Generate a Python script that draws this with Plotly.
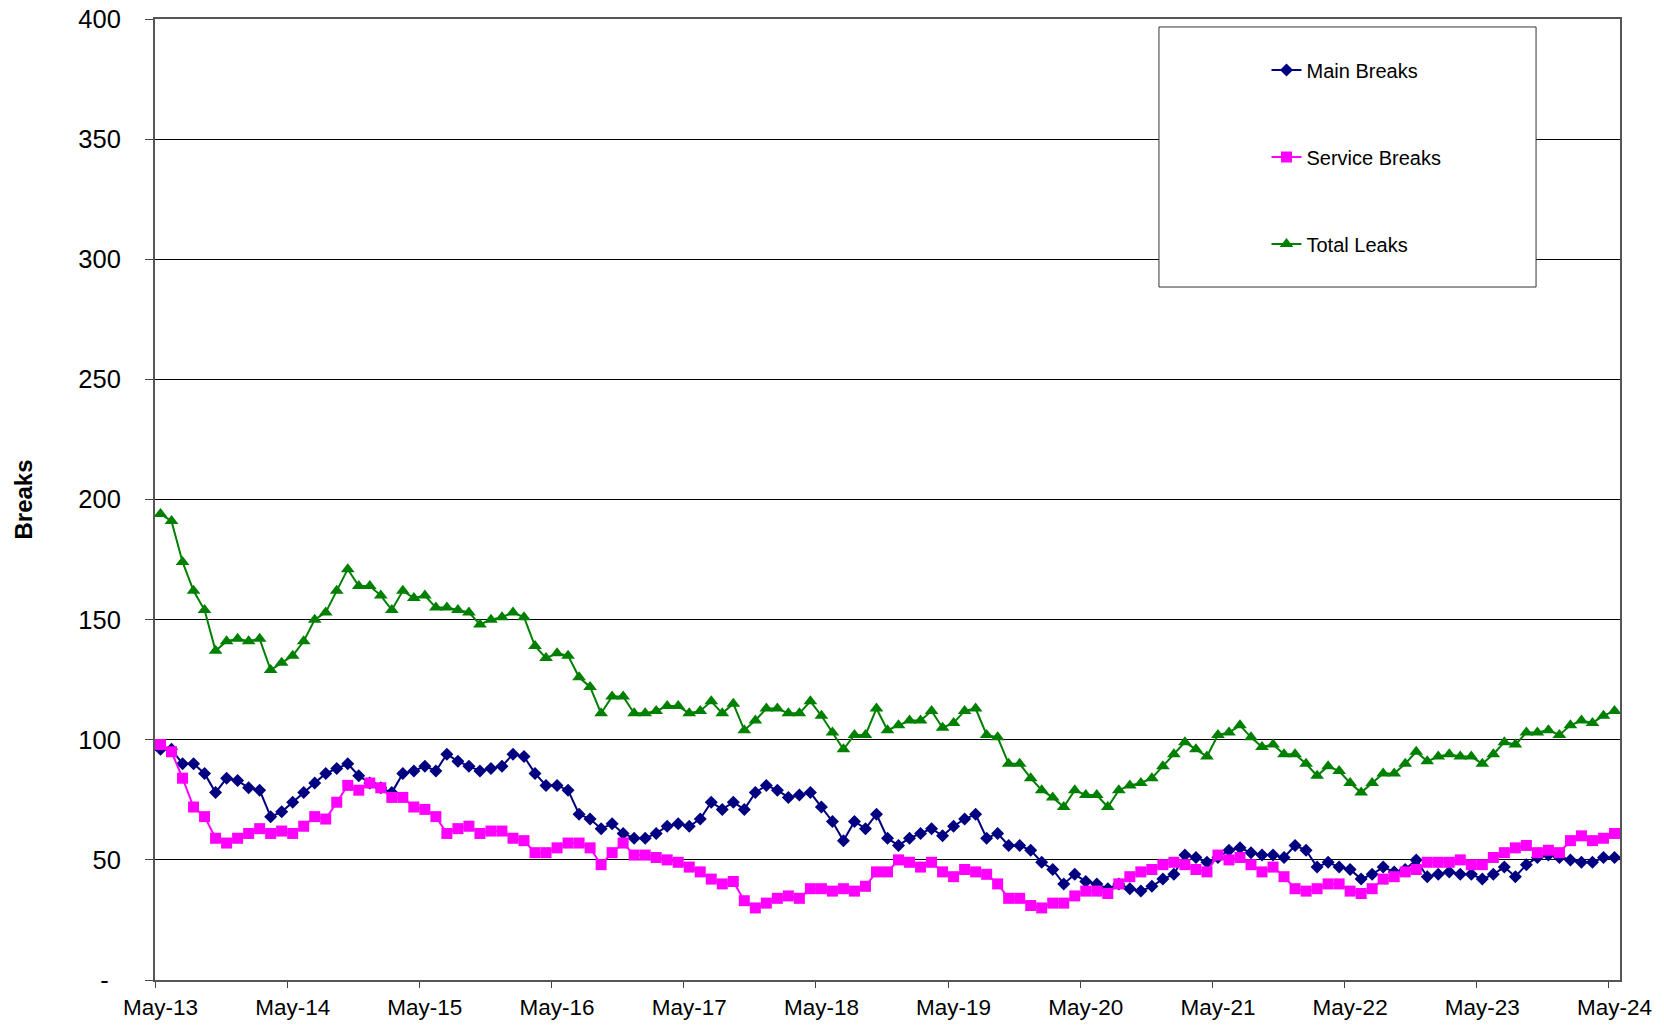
import plotly.graph_objects as go

# ---- data (monthly, May-13 .. May-24) ----
month_names = ["Jan", "Feb", "Mar", "Apr", "May", "Jun", "Jul", "Aug", "Sep", "Oct", "Nov", "Dec"]
months = []
for k in range(133):
    m = (4 + k) % 12
    y = 13 + (4 + k) // 12
    months.append(f"{month_names[m]}-{y:02d}")

main_breaks = [96, 96, 90, 90, 86, 78, 84, 83, 80, 79, 68, 70, 74, 78, 82, 86, 88, 90, 85, 82, 80, 78, 86, 87, 89,
               87, 94, 91, 89, 87, 88, 89, 94, 93, 86, 81, 81, 79, 69, 67, 63, 65, 61, 59, 59, 61, 64, 65, 64, 67,
               74, 71, 74, 71, 78, 81, 79, 76, 77, 78, 72, 66, 58, 66, 63, 69, 59, 56, 59, 61, 63, 60, 64, 67, 69,
               59, 61, 56, 56, 54, 49, 46, 40, 44, 41, 40, 38, 40, 38, 37, 39, 42, 44, 52, 51, 49, 51, 54, 55, 53,
               52, 52, 51, 56, 54, 47, 49, 47, 46, 42, 44, 47, 45, 46, 50, 43, 44, 45, 44, 44, 42, 44, 47, 43, 48,
               51, 52, 51, 50, 49, 49, 51, 51]

service_breaks = [98, 95, 84, 72, 68, 59, 57, 59, 61, 63, 61, 62, 61, 64, 68, 67, 74, 81, 79, 82, 80, 76, 76, 72, 71,
                  68, 61, 63, 64, 61, 62, 62, 59, 58, 53, 53, 55, 57, 57, 55, 48, 53, 57, 52, 52, 51, 50, 49, 47, 45,
                  42, 40, 41, 33, 30, 32, 34, 35, 34, 38, 38, 37, 38, 37, 39, 45, 45, 50, 49, 47, 49, 45, 43, 46, 45,
                  44, 40, 34, 34, 31, 30, 32, 32, 35, 37, 37, 36, 40, 43, 45, 46, 48, 49, 48, 46, 45, 52, 50, 51, 48,
                  45, 47, 43, 38, 37, 38, 40, 40, 37, 36, 38, 42, 43, 45, 46, 49, 49, 49, 50, 48, 48, 51, 53, 55, 56,
                  53, 54, 53, 58, 60, 58, 59, 61]

total_leaks = [194, 191, 174, 162, 154, 137, 141, 142, 141, 142, 129, 132, 135, 141, 150, 153, 162, 171, 164, 164, 160, 154, 162, 159, 160,
               155, 155, 154, 153, 148, 150, 151, 153, 151, 139, 134, 136, 135, 126, 122, 111, 118, 118, 111, 111, 112, 114, 114, 111, 112,
               116, 111, 115, 104, 108, 113, 113, 111, 111, 116, 110, 103, 96, 102, 102, 113, 104, 106, 108, 108, 112, 105, 107, 112, 113,
               102, 101, 90, 90, 84, 79, 76, 72, 79, 77, 77, 72, 79, 81, 82, 84, 89, 94, 99, 96, 93, 102, 103, 106, 101,
               97, 98, 94, 94, 90, 85, 89, 87, 82, 78, 82, 86, 86, 90, 95, 91, 93, 94, 93, 93, 90, 94, 99, 98, 103,
               103, 104, 102, 106, 108, 107, 110, 112]

y_tick_vals = [0, 50, 100, 150, 200, 250, 300, 350, 400]
y_tick_text = ["-\u00a0\u2009", "50", "100", "150", "200", "250", "300", "350", "400"]

x_idx = list(range(len(months)))
x_tick_vals = [i for i, m in enumerate(months) if m.startswith("May")]
x_tick_text = [m for m in months if m.startswith("May")]
x_boundaries = [i - 0.5 for i in x_tick_vals]

FONT = "Liberation Sans, Arial, sans-serif"

fig = go.Figure()
fig.add_trace(go.Scatter(x=x_idx, y=main_breaks, name="Main Breaks", mode="lines+markers",
                         line=dict(color="#000080", width=2),
                         marker=dict(symbol="diamond", size=10, color="#000080"),
                         legendgroup="a", text=months))
fig.add_trace(go.Scatter(x=x_idx, y=service_breaks, name="Service Breaks", mode="lines+markers",
                         line=dict(color="#FF00FF", width=2),
                         marker=dict(symbol="square", size=11, color="#FF00FF"),
                         legendgroup="b", text=months))
fig.add_trace(go.Scatter(x=x_idx, y=total_leaks, name="Total Leaks", mode="lines+markers",
                         line=dict(color="#008000", width=2),
                         marker=dict(symbol="triangle-up", size=12, color="#008000"),
                         legendgroup="c", text=months))

# legend frame
fig.add_shape(type="rect", xref="paper", yref="paper",
              x0=0.6853, x1=0.9427, y0=0.7211, y1=0.9917,
              line=dict(color="#333333", width=1), fillcolor="white", layer="above")

fig.update_layout(
    width=1664, height=1026,
    margin=dict(l=155, r=44, t=19, b=46, autoexpand=False),
    paper_bgcolor="white", plot_bgcolor="white",
    font=dict(family=FONT, size=22, color="black"),
    showlegend=True,
    legend=dict(x=0.7587, y=0.9673, xanchor="left", yanchor="top",
                bgcolor="rgba(0,0,0,0)", borderwidth=0,
                font=dict(family=FONT, size=20, color="black"),
                traceorder="grouped", tracegroupgap=58),
    xaxis=dict(range=[-0.5, len(months) - 0.5], tickmode="array",
               tickvals=x_tick_vals, ticktext=x_tick_text,
               ticks="", ticklabelstandoff=6, automargin=False,
               minor=dict(tickmode="array", tickvals=x_boundaries, ticks="outside",
                          ticklen=6, tickcolor="#444444", tickwidth=1, showgrid=False),
               showgrid=False, zeroline=False,
               showline=True, linecolor="#555555", linewidth=2, mirror=True,
               tickfont=dict(family=FONT, size=22.5, color="black")),
    yaxis=dict(range=[0, 400], tickmode="array", tickvals=y_tick_vals, ticktext=y_tick_text,
               ticks="outside", ticklen=8, tickcolor="#444444", tickwidth=1,
               showgrid=True, gridcolor="#000000", gridwidth=1, zeroline=False,
               showline=True, linecolor="#555555", linewidth=2, mirror=True,
               ticklabelstandoff=19, automargin=False,
               tickfont=dict(family=FONT, size=25.5, color="black"),
               title=dict(text="<b>Breaks</b>", font=dict(family=FONT, size=24, color="black"),
                          standoff=39)),
)

fig.write_html("out.html", config={"displayModeBar": False},
               post_script="document.body.style.margin='0';")
